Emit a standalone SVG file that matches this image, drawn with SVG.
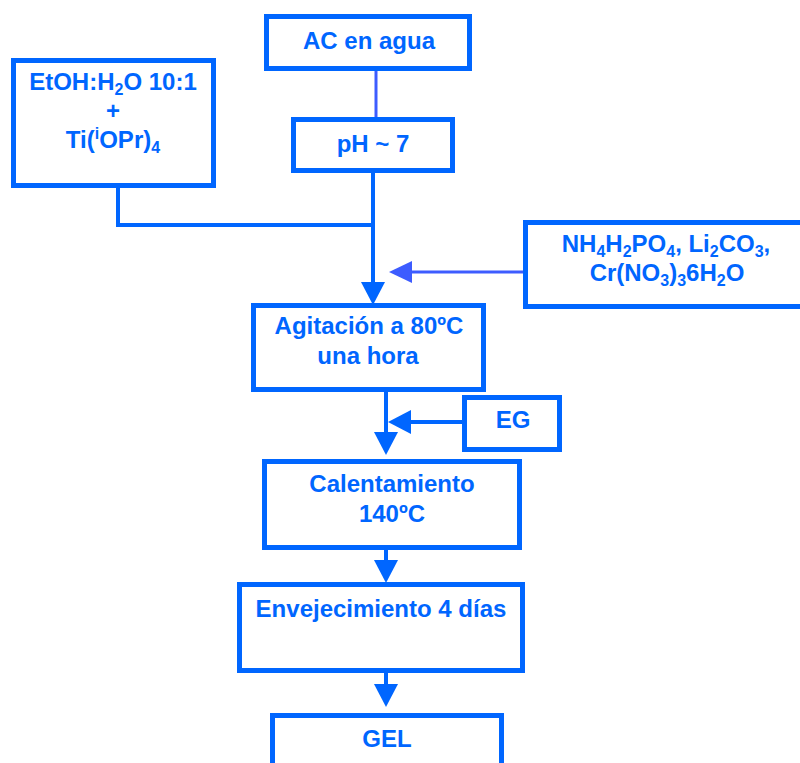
<svg xmlns="http://www.w3.org/2000/svg" width="800" height="763" viewBox="0 0 800 763">
<defs>
<style>
.box{fill:#fff;stroke:#0066ff;stroke-width:5}
.t{font-family:"Liberation Sans",Arial,Helvetica,sans-serif;font-weight:bold;font-size:24px;fill:#0066ff;text-anchor:middle}
.c{fill:none;stroke:#0066ff;stroke-width:4}
.c2{fill:none;stroke:#3d5cff;stroke-width:3}
.sub{font-size:16px}
</style>
<marker id="ah" markerUnits="userSpaceOnUse" markerWidth="26" markerHeight="26" viewBox="0 -13 26 26" refX="1" refY="0" orient="auto">
<path d="M0,-12 L23,0 L0,12 z" fill="#0066ff"/>
</marker>
<marker id="ah2" markerUnits="userSpaceOnUse" markerWidth="26" markerHeight="26" viewBox="0 -13 26 26" refX="1" refY="0" orient="auto">
<path d="M0,-11 L23,0 L0,11 z" fill="#3d5cff"/>
</marker>
</defs>
<rect width="800" height="763" fill="#fff"/>
<g id="connectors">
<line class="c2" x1="376" y1="71" x2="376" y2="117"/>
<polyline class="c" points="118,188 118,225 374,225"/>
<line class="c" x1="373" y1="173" x2="373" y2="283" marker-end="url(#ah)"/>
<line class="c2" x1="523" y1="272" x2="411" y2="272" marker-end="url(#ah2)"/>
<line class="c" x1="386" y1="392" x2="386" y2="433" marker-end="url(#ah)"/>
<line class="c" x1="462" y1="422" x2="410" y2="422" marker-end="url(#ah)"/>
<line class="c" x1="386" y1="550" x2="386" y2="561" marker-end="url(#ah)"/>
<line class="c" x1="386" y1="673" x2="386" y2="685" marker-end="url(#ah)"/>
</g>
<g id="ac">
<rect class="box" x="266.5" y="16.5" width="203" height="52"/>
<text class="t" x="369" y="49">AC en agua</text>
</g>
<g id="etoh">
<rect class="box" x="13.5" y="60.5" width="200" height="125"/>
<text class="t" x="113" y="90">EtOH:H<tspan class="sub" dy="5">2</tspan><tspan dy="-5">O 10:1</tspan></text>
<text class="t" x="113" y="119">+</text>
<text class="t" x="113" y="148">Ti(<tspan class="sub" dy="-9">i</tspan><tspan dy="9">OPr)</tspan><tspan class="sub" dy="5">4</tspan></text>
</g>
<g id="ph">
<rect class="box" x="293.5" y="119.5" width="159" height="51"/>
<text class="t" x="373" y="152">pH ~ 7</text>
</g>
<g id="reactivos">
<rect class="box" x="525.5" y="222.5" width="300" height="84"/>
<text class="t" x="666" y="252">NH<tspan class="sub" dy="5">4</tspan><tspan dy="-5">H</tspan><tspan class="sub" dy="5">2</tspan><tspan dy="-5">PO</tspan><tspan class="sub" dy="5">4</tspan><tspan dy="-5">, Li</tspan><tspan class="sub" dy="5">2</tspan><tspan dy="-5">CO</tspan><tspan class="sub" dy="5">3</tspan><tspan dy="-5">,</tspan></text>
<text class="t" x="667" y="281">Cr(NO<tspan class="sub" dy="5">3</tspan><tspan dy="-5">)</tspan><tspan class="sub" dy="5">3</tspan><tspan dy="-5">6H</tspan><tspan class="sub" dy="5">2</tspan><tspan dy="-5">O</tspan></text>
</g>
<g id="agitacion">
<rect class="box" x="253.5" y="305.5" width="230" height="84"/>
<text class="t" x="369" y="334">Agitación a 80ºC</text>
<text class="t" x="368" y="364">una hora</text>
</g>
<g id="eg">
<rect class="box" x="464.5" y="397.5" width="95" height="52"/>
<text class="t" x="513" y="428">EG</text>
</g>
<g id="calentamiento">
<rect class="box" x="264.5" y="461.5" width="255" height="86"/>
<text class="t" x="392" y="492">Calentamiento</text>
<text class="t" x="392" y="522">140ºC</text>
</g>
<g id="envejecimiento">
<rect class="box" x="239.5" y="584.5" width="283" height="86"/>
<text class="t" x="381" y="617">Envejecimiento 4 días</text>
</g>
<g id="gel">
<rect class="box" x="272.5" y="715.5" width="229" height="60"/>
<text class="t" x="387" y="747">GEL</text>
</g>
</svg>
